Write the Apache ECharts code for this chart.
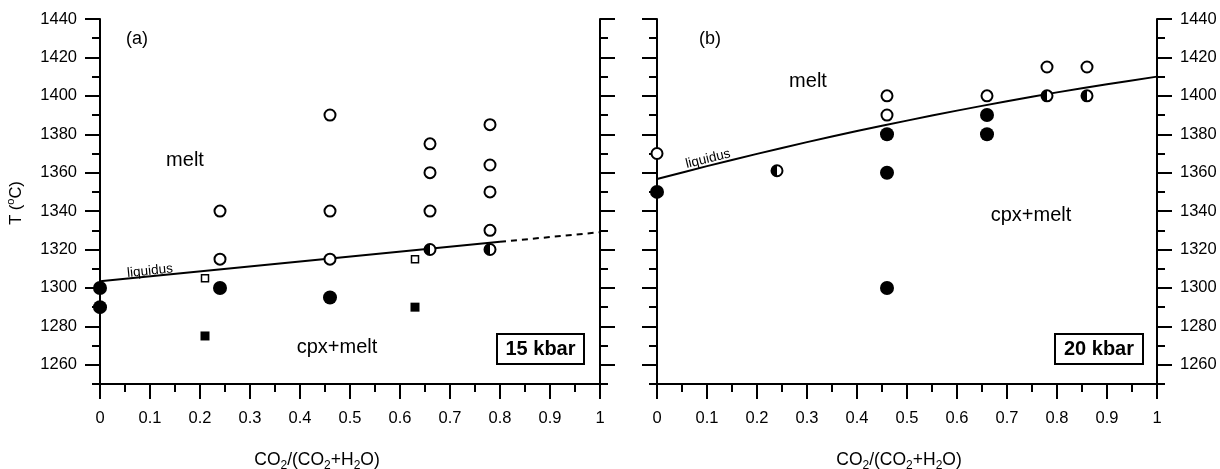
<!DOCTYPE html>
<html>
<head>
<meta charset="utf-8">
<script src="https://cdn.jsdelivr.net/npm/echarts@6/dist/echarts.min.js"></script>
<style>
html,body{margin:0;padding:0;background:#fff;}
#c{width:1220px;height:469px;}
</style>
</head>
<body>
<div id="c"></div>
<script>
// ---------- data ----------
const yMin = 1250, yMax = 1440;          // full plotted temperature range
const yMajorMin = 1260, yMajorStep = 20; // labelled (major) ticks 1260..1440
const yMinorStep = 10;                   // minor ticks every 10
const xMin = 0, xMax = 1, xStep = 0.1;

// panel (a) 15 kbar
const aOpenX   = [0.24,0.24,0.46,0.46,0.46,0.66,0.66,0.66,0.78,0.78,0.78,0.78];
const aOpenT   = [1340,1315,1390,1340,1315,1375,1360,1340,1385,1364,1350,1330];
const aFillX   = [0,0,0.24,0.46];
const aFillT   = [1300,1290,1300,1295];
const aHalfX   = [0.66,0.78];
const aHalfT   = [1320,1320];
const aOpenSqX = [0.21,0.63];
const aOpenSqT = [1305,1315];
const aFillSqX = [0.21,0.63];
const aFillSqT = [1275,1290];
const aLiqX    = [0,0.8];
const aLiqT    = [1303.5,1324];
const aLiqDashX = [0.8,1.0];
const aLiqDashT = [1324,1329];

// panel (b) 20 kbar
const bOpenX = [0,0.46,0.46,0.66,0.78,0.86];
const bOpenT = [1370,1400,1390,1400,1415,1415];
const bFillX = [0,0.46,0.46,0.46,0.66,0.66];
const bFillT = [1350,1380,1360,1300,1390,1380];
const bHalfX = [0.24,0.78,0.86];
const bHalfT = [1361,1400,1400];
const bLiqX  = [0,0.1,0.2,0.3,0.4,0.5,0.6,0.7,0.8,0.9,1.0];
const bLiqT  = [1356.7,1363.4,1369.8,1375.9,1381.7,1387.1,1392.3,1397.2,1401.8,1406.0,1410.0];

// ---------- chart ----------
const FONT = '"Liberation Sans", Arial, sans-serif';
const zip = (xs, ys) => xs.map((x, i) => [x, ys[i]]);
const chart = echarts.init(document.getElementById('c'));

const TOP = 19, H = 365;
const Hmajor = H * (yMax - yMajorMin) / (yMax - yMin);
const grids = [
  {left:100, top:TOP, width:500, height:H},
  {left:657, top:TOP, width:500, height:H},
  {left:100, top:TOP, width:500, height:Hmajor},
  {left:657, top:TOP, width:500, height:Hmajor}
];

const black = {color:'#000', width:2};
function xAxisFor(gi){
  return {
    type:'value', gridIndex:gi, min:xMin, max:xMax, interval:xStep,
    axisLine:{show:true, onZero:false, lineStyle:black},
    axisTick:{show:true, length:15, lineStyle:black},
    minorTick:{show:true, splitNumber:2, length:8, lineStyle:black},
    splitLine:{show:false}, minorSplitLine:{show:false},
    axisLabel:{color:'#000', fontSize:16.5, fontFamily:FONT, margin:26, formatter:v=>String(v)}
  };
}
function hiddenX(gi){
  return {type:'value', gridIndex:gi, min:xMin, max:xMax, show:false};
}
function yMinorAxis(gi, pos){
  return {
    type:'value', gridIndex:gi, position:pos, min:yMin, max:yMax, interval:yMinorStep,
    axisLine:{show:true, onZero:false, lineStyle:black},
    axisTick:{show:true, length:8, lineStyle:black},
    splitLine:{show:false},
    axisLabel:{show:false}
  };
}
function yMajorAxis(gi, pos, labels){
  return {
    type:'value', gridIndex:gi, position:pos, min:yMajorMin, max:yMax, interval:yMajorStep,
    axisLine:{show:false},
    axisTick:{show:true, length:15, lineStyle:black},
    splitLine:{show:false},
    axisLabel:{show:labels, color:'#000', fontSize:16.5, fontFamily:FONT, margin:23, formatter:v=>String(v)}
  };
}

const openStyle = {color:'#fff', borderColor:'#000', borderWidth:2, opacity:1};
const fillStyle = {color:'#000', opacity:1};
const halfStyle = {
  color: new echarts.graphic.LinearGradient(0,0,1,0,[
    {offset:0,color:'#000'},{offset:0.5,color:'#000'},
    {offset:0.5,color:'#fff'},{offset:1,color:'#fff'}]),
  borderColor:'#000', borderWidth:2, opacity:1
};

function sc(data, xi, yi, symbol, size, style){
  return {type:'scatter', xAxisIndex:xi, yAxisIndex:yi, data:data, symbol:symbol,
          symbolSize:size, itemStyle:style, clip:false, z:5, silent:true};
}
function ln(data, xi, yi, dashed, smooth){
  return {type:'line', xAxisIndex:xi, yAxisIndex:yi, data:data, showSymbol:false, symbol:'none',
          smooth: smooth ? 0.3 : false, clip:false, z:3, silent:true,
          lineStyle:{color:'#000', width:2, type: dashed ? [6,5] : 'solid'}};
}

function txt(x, y, text, size, extra){
  const o = {type:'text', x:x, y:y, z:20, style:{text:text, fontSize:size, fontFamily:FONT,
    fill:'#000', align:'center', verticalAlign:'middle'}};
  if (extra) {
    if (extra.rotation !== undefined) o.rotation = extra.rotation;
    if (extra.bold) o.style.fontWeight = 'bold';
    if (extra.z) o.z = extra.z;
  }
  return o;
}
const subRich = {
  n:{fontSize:17.5, fontFamily:FONT, lineHeight:24, fill:'#000'},
  s:{fontSize:12, fontFamily:FONT, verticalAlign:'bottom', fill:'#000'}
};
const xTitle = '{n|CO}{s|2}{n|/(CO}{s|2}{n|+H}{s|2}{n|O)}';

const option = {
  backgroundColor:'#fff',
  animation:false,
  grid: grids,
  xAxis:[xAxisFor(0), xAxisFor(1), hiddenX(2), hiddenX(3)],
  yAxis:[
    yMinorAxis(0,'left'),
    yMinorAxis(0,'right'),
    yMinorAxis(1,'left'),
    yMinorAxis(1,'right'),
    yMajorAxis(2,'left',true),
    yMajorAxis(2,'right',false),
    yMajorAxis(3,'left',false),
    yMajorAxis(3,'right',true)
  ],
  series:[
    ln(zip(aLiqX,aLiqT),0,0,false,false),
    ln(zip(aLiqDashX,aLiqDashT),0,0,true,false),
    sc(zip(aOpenX,aOpenT),0,0,'circle',11,openStyle),
    sc(zip(aFillX,aFillT),0,0,'circle',14,fillStyle),
    sc(zip(aHalfX,aHalfT),0,0,'circle',11,halfStyle),
    sc(zip(aOpenSqX,aOpenSqT),0,0,'rect',7,{color:'#fff', borderColor:'#000', borderWidth:1.5, opacity:1}),
    sc(zip(aFillSqX,aFillSqT),0,0,'rect',9,fillStyle),
    ln(zip(bLiqX,bLiqT),1,2,false,true),
    sc(zip(bOpenX,bOpenT),1,2,'circle',11,openStyle),
    sc(zip(bFillX,bFillT),1,2,'circle',14,fillStyle),
    sc(zip(bHalfX,bHalfT),1,2,'circle',11,halfStyle)
  ],
  graphic:[
    txt(137,39,'(a)',18),
    txt(185,160,'melt',20),
    txt(337,347,'cpx+melt',20),
    txt(150,271,'liquidus',13.5,{rotation:0.1}),
    {type:'rect', z:20, shape:{x:497, y:334, width:87, height:30}, style:{fill:'#fff', stroke:'#000', lineWidth:2}},
    txt(540.5,349.5,'15 kbar',20,{bold:true, z:21}),
    txt(710,39,'(b)',18),
    txt(808,81,'melt',20),
    txt(1031,215,'cpx+melt',20),
    txt(708,159,'liquidus',13.5,{rotation:0.24}),
    {type:'rect', z:20, shape:{x:1055, y:334, width:88, height:30}, style:{fill:'#fff', stroke:'#000', lineWidth:2}},
    txt(1099,349.5,'20 kbar',20,{bold:true, z:21}),
    {type:'text', x:317, y:460, z:20, style:{text:xTitle, rich:subRich, align:'center', verticalAlign:'middle'}},
    {type:'text', x:899, y:460, z:20, style:{text:xTitle, rich:subRich, align:'center', verticalAlign:'middle'}},
    {type:'text', x:16, y:203, rotation:Math.PI/2, z:20, style:{
      text:'{n|T (}{p|o}{n|C)}', align:'center', verticalAlign:'middle',
      rich:{ n:{fontSize:16.5, fontFamily:FONT, lineHeight:22, fill:'#000'},
             p:{fontSize:11, fontFamily:FONT, verticalAlign:'top', fill:'#000'} }}}
  ]
};
chart.setOption(option);
</script>
</body>
</html>
